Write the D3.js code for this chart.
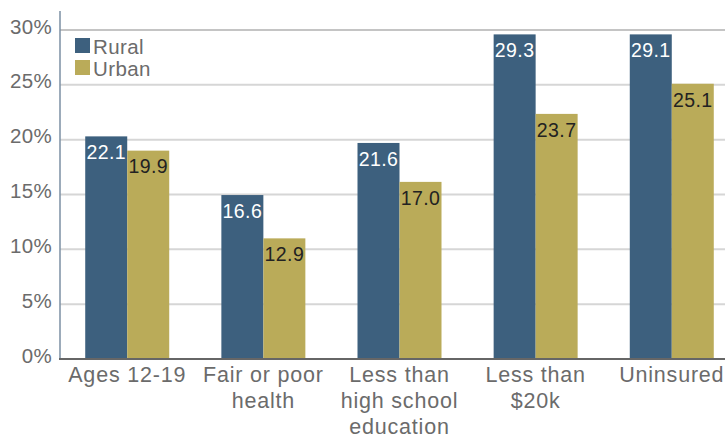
<!DOCTYPE html>
<html>
<head>
<meta charset="utf-8">
<script src="https://cdn.jsdelivr.net/npm/d3@7"></script>
<style>
  html, body { margin: 0; padding: 0; background: #fff; }
  svg { display: block; font-family: "Liberation Sans", Arial, Helvetica, sans-serif; }
</style>
</head>
<body>
<svg id="chart" width="725" height="439"></svg>
<script>
// ---- data ----
const categories = ["Ages 12-19", "Fair or poor health", "Less than high school education", "Less than $20k", "Uninsured"];
const seriesNames = ["Rural", "Urban"];
// bar heights as drawn in the picture (percent)
const ruralValues = [20.3, 14.95, 19.7, 29.6, 29.6];
const urbanValues = [19.0, 11.0, 16.15, 22.35, 25.1];
// value labels printed on the bars
const ruralLabels = ["22.1", "16.6", "21.6", "29.3", "29.1"];
const urbanLabels = ["19.9", "12.9", "17.0", "23.7", "25.1"];
const yTicks = [0, 5, 10, 15, 20, 25, 30];

const colors = { Rural: "#3d607e", Urban: "#baab59" };

const svg = d3.select("#chart");
const W = 725, H = 439;
const left = 60, baseY = 359, topY = 30;

const y = d3.scaleLinear().domain([0, 30]).range([baseY, topY]);
const x = d3.scaleBand().domain(categories).range([58, 741]).paddingInner(0.383).paddingOuter(0.2);
const xs = d3.scaleBand().domain(seriesNames).range([0, x.bandwidth()]);

// gridlines
svg.append("g").selectAll("line").data(yTicks.filter(d => d > 0)).join("line")
  .attr("x1", left).attr("x2", W)
  .attr("y1", d => y(d)).attr("y2", d => y(d))
  .attr("stroke", d => d === 30 ? "#c4c4c4" : "#d6d6d6")
  .attr("stroke-width", 2);

// y axis (labels)
const yAxis = d3.axisLeft(y).tickValues(yTicks).tickFormat(d => d + "%").tickSize(0).tickPadding(8);
const gy = svg.append("g").attr("transform", `translate(${left},0)`).call(yAxis);
gy.select(".domain").remove();
gy.selectAll("text")
  .attr("font-size", 20.5).attr("fill", "#6b6b6b")
  .attr("font-family", "'Liberation Sans', Arial, Helvetica, sans-serif")
  .attr("letter-spacing", 0.3)
  .attr("transform", "translate(0,-3.5)");

// bars
const rows = categories.map((c, i) => ({
  cat: c,
  items: [
    { s: "Rural", v: ruralValues[i], label: ruralLabels[i] },
    { s: "Urban", v: urbanValues[i], label: urbanLabels[i] }
  ]
}));

const g = svg.append("g").selectAll("g").data(rows).join("g")
  .attr("transform", d => `translate(${x(d.cat)},0)`);

g.selectAll("rect").data(d => d.items).join("rect")
  .attr("x", d => xs(d.s))
  .attr("y", d => y(d.v))
  .attr("width", xs.bandwidth())
  .attr("height", d => baseY - y(d.v))
  .attr("fill", d => colors[d.s]);

g.selectAll("text.val").data(d => d.items).join("text")
  .attr("class", "val")
  .attr("x", d => xs(d.s) + xs.bandwidth() / 2)
  .attr("y", d => y(d.v) + 16)
  .attr("dy", "0.35em")
  .attr("text-anchor", "middle")
  .attr("font-size", 19.5)
  .attr("letter-spacing", 0.4)
  .attr("fill", d => d.s === "Rural" ? "#ffffff" : "#222222")
  .text(d => d.label);

// y axis line
svg.append("line").attr("x1", left).attr("x2", left).attr("y1", 11).attr("y2", baseY)
  .attr("stroke", "#7b8fa3").attr("stroke-width", 1.5);

// baseline
svg.append("line").attr("x1", left - 1).attr("x2", W).attr("y1", baseY).attr("y2", baseY)
  .attr("stroke", "#666").attr("stroke-width", 2);

// x axis labels with wrapping
const xLab = svg.append("g").selectAll("text").data(categories).join("text")
  .attr("x", d => x(d) + x.bandwidth() / 2)
  .attr("y", 382)
  .attr("text-anchor", "middle")
  .attr("font-size", 21.5)
  .attr("letter-spacing", 0.8)
  .attr("fill", "#6b6b6b");

xLab.each(function(d) {
  const t = d3.select(this);
  const words = d.split(" ");
  const maxW = 136;
  let line = [];
  let tspan = t.append("tspan").attr("x", t.attr("x")).attr("dy", 0);
  words.forEach(w => {
    line.push(w);
    tspan.text(line.join(" "));
    if (tspan.node().getComputedTextLength() > maxW && line.length > 1) {
      line.pop();
      tspan.text(line.join(" "));
      line = [w];
      tspan = t.append("tspan").attr("x", t.attr("x")).attr("dy", 26).text(w);
    }
  });
});

// legend
const leg = svg.append("g").selectAll("g").data(seriesNames).join("g")
  .attr("transform", (d, i) => `translate(75,${38 + i * 22})`);
leg.append("rect").attr("width", 15).attr("height", 15).attr("fill", d => colors[d]);
leg.append("text").attr("x", 18).attr("y", 15.5).attr("font-size", 20.5).attr("letter-spacing", 0.4)
  .attr("fill", "#6b6b6b").text(d => d);
</script>
</body>
</html>
